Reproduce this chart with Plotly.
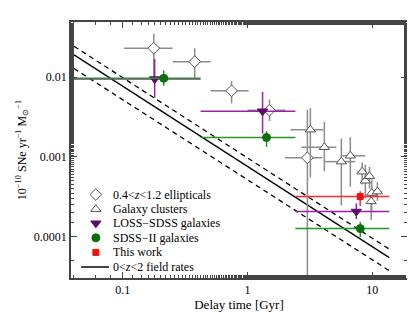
import numpy as np
import plotly.graph_objects as go

# ---- data ----
ell_t    = [0.177, 0.377, 0.745, 1.50, 3.02]
ell_t_lo = [0.102, 0.251, 0.506, 1.00, 2.00]
ell_t_hi = [0.251, 0.506, 1.02, 2.01, 3.98]
ell_r    = [0.0232, 0.0157, 0.00675, 0.00385, 0.00097]
ell_r_lo = [0.0100, 0.0097, 0.00468, 0.00282, 0.00001]
ell_r_hi = [0.0354, 0.0232, 0.0089, 0.00524, 0.0039]

cl_t    = [3.19, 4.13, 5.65, 6.67, 8.3, 8.8, 9.5, 9.9, 11.0, 9.8]
cl_t_lo = [2.21, 2.70, 4.20, 5.65, 7.6, 8.1, 8.9, 9.3, 10.2, 9.2]
cl_t_hi = [4.06, 5.15, 7.30, 8.80, 9.0, 9.5, 10.2, 10.6, 12.0, 10.5]
cl_r    = [0.00219, 0.00132, 0.00087, 0.00103, 0.00065, 0.00050, 0.00057, 0.00035, 0.000365, 0.000275]
cl_r_lo = [0.00055, 0.00066, 0.000245, 0.00042, 0.00045, 0.00030, 0.00040, 0.00020, 0.00028, 0.00016]
cl_r_hi = [0.0041, 0.00275, 0.0017, 0.00176, 0.00085, 0.00080, 0.00075, 0.00052, 0.00048, 0.00040]

loss_t    = [0.18, 1.32, 7.45]
loss_t_lo = [0.0406, 0.42, 2.42]
loss_t_hi = [0.42, 2.42, 13.7]
loss_r    = [0.0095, 0.00374, 0.000205]
loss_r_lo = [0.00555, 0.00196, 0.000165]
loss_r_hi = [0.0170, 0.00656, 0.00026]

sdss_t    = [0.213, 1.42, 8.02]
sdss_t_lo = [0.0406, 0.42, 2.42]
sdss_t_hi = [0.42, 2.42, 13.7]
sdss_r    = [0.0097, 0.00175, 0.000125]
sdss_r_lo = [0.0078, 0.00133, 0.0000975]
sdss_r_hi = [0.0122, 0.0021, 0.000152]

tw_t    = [8.0]
tw_t_lo = [2.42]
tw_t_hi = [13.7]
tw_r    = [0.000316]
tw_r_lo = [0.00024]
tw_r_hi = [0.00037]

field_t       = [0.0406, 13.7]
field_rate    = [0.0191, 0.000054]
field_rate_hi = [0.0245, 0.000069]
field_rate_lo = [0.0129, 0.000037]

xtick_vals = [0.1, 1, 10]
xtick_text = ["0.1", "1", "10"]
ytick_vals = [0.0001, 0.001, 0.01]
ytick_text = ["0.0001", "0.001", "0.01"]

legend_labels = ["0.4<<i>z</i><1.2 ellipticals", "Galaxy clusters", "LOSS−SDSS galaxies",
                 "SDSS−II galaxies", "This work", "0<<i>z</i><2 field rates"]

FONT = "'Times New Roman', 'Liberation Serif', Times, serif"

GRAY_E = "#8c8c8c"
PURP_E = "#9b22a6"
GREEN_E = "#1f9a1f"
RED_E = "#ff2a2a"

styles = [
    dict(symbol="diamond", size=9, color="white", line=dict(color="#555555", width=1)),
    dict(symbol="triangle-up", size=9, color="white", line=dict(color="#555555", width=1)),
    dict(symbol="triangle-down", size=9, color="#5c0a6e", line=dict(color="#5c0a6e", width=1)),
    dict(symbol="circle", size=8, color="#0b6e0b", line=dict(color="#0b6e0b", width=1)),
    dict(symbol="square", size=6, color="#ee1111", line=dict(color="#ee1111", width=1)),
]


def errs(v, lo, hi):
    v = np.array(v); lo = np.array(lo); hi = np.array(hi)
    return (hi - v).tolist(), (v - lo).tolist()


def point_trace(t, tlo, thi, r, rlo, rhi, name, marker, ecolor, ewidth=1.5):
    xp, xm = errs(t, tlo, thi)
    yp, ym = errs(r, rlo, rhi)
    return go.Scatter(
        x=t, y=r, mode="markers", name=name, showlegend=False,
        marker=marker,
        error_x=dict(type="data", symmetric=False, array=xp, arrayminus=xm,
                     color=ecolor, thickness=ewidth, width=0),
        error_y=dict(type="data", symmetric=False, array=yp, arrayminus=ym,
                     color=ecolor, thickness=ewidth, width=0),
    )


fig = go.Figure()

# field rate lines
fig.add_trace(go.Scatter(x=field_t, y=field_rate_hi, mode="lines", showlegend=False,
                         line=dict(color="black", width=1.3, dash="5px,4px")))
fig.add_trace(go.Scatter(x=field_t, y=field_rate_lo, mode="lines", showlegend=False,
                         line=dict(color="black", width=1.3, dash="5px,4px")))
fig.add_trace(go.Scatter(x=field_t, y=field_rate, mode="lines", showlegend=False,
                         name=legend_labels[5], line=dict(color="black", width=1.3)))

fig.add_trace(point_trace(ell_t, ell_t_lo, ell_t_hi, ell_r, ell_r_lo, ell_r_hi,
                          legend_labels[0], styles[0], GRAY_E))
fig.add_trace(point_trace(cl_t, cl_t_lo, cl_t_hi, cl_r, cl_r_lo, cl_r_hi,
                          legend_labels[1], styles[1], GRAY_E))
fig.add_trace(point_trace(loss_t, loss_t_lo, loss_t_hi, loss_r, loss_r_lo, loss_r_hi,
                          legend_labels[2], styles[2], PURP_E))
fig.add_trace(point_trace(sdss_t, sdss_t_lo, sdss_t_hi, sdss_r, sdss_r_lo, sdss_r_hi,
                          legend_labels[3], styles[3], GREEN_E))
fig.add_trace(point_trace(tw_t, tw_t_lo, tw_t_hi, tw_r, tw_r_lo, tw_r_hi,
                          legend_labels[4], styles[4], RED_E))

# ---- compact legend (keys on an overlay axis in plot-fraction units) ----
row_y = [0.326, 0.269, 0.214, 0.157, 0.100, 0.043]
key_x = 0.074
text_x = 0.119
for i in range(5):
    fig.add_trace(go.Scatter(x=[key_x], y=[row_y[i]], mode="markers", marker=styles[i],
                             xaxis="x2", yaxis="y2", showlegend=False, hoverinfo="skip"))
fig.add_trace(go.Scatter(x=[0.030, 0.113], y=[row_y[5], row_y[5]], mode="lines",
                         line=dict(color="#444444", width=2), xaxis="x2", yaxis="y2",
                         showlegend=False, hoverinfo="skip"))
for i, lab in enumerate(legend_labels):
    fig.add_annotation(x=text_x, y=row_y[i], xref="paper", yref="paper", text=lab,
                       showarrow=False, xanchor="left", yanchor="middle",
                       font=dict(family=FONT, size=12, color="black"))

axis_common = dict(
    type="log", showgrid=False, zeroline=False, showline=True, linecolor="#444444", linewidth=1.5,
    mirror="allticks", ticks="inside", ticklen=6, tickcolor="#444444",
    tickfont=dict(family=FONT, size=12, color="black"),
    minor=dict(ticks="inside", ticklen=3, tickcolor="#444444", showgrid=False),
)

fig.update_xaxes(range=[np.log10(0.0384), np.log10(19.0)], tickvals=xtick_vals, ticktext=xtick_text,
                 title=dict(text="Delay time [Gyr]", font=dict(family=FONT, size=13, color="black"),
                            standoff=2),
                 **axis_common)
fig.update_yaxes(range=[-4.524, -1.305], tickvals=ytick_vals, ticktext=ytick_text,
                 title=dict(text="10<sup>−10</sup> SNe yr<sup>−1</sup> M<sub>⊙</sub><sup>−1</sup>",
                            font=dict(family=FONT, size=12, color="black"), standoff=5),
                 **axis_common)

fig.update_layout(
    width=415, height=312,
    margin=dict(l=62, r=16, t=13, b=35),
    paper_bgcolor="white", plot_bgcolor="white",
    font=dict(family=FONT, size=12, color="black"),
    showlegend=False,
    xaxis2=dict(overlaying="x", range=[0, 1], visible=False, anchor="y2"),
    yaxis2=dict(overlaying="y", range=[0, 1], visible=False, anchor="x2"),
)

fig.write_html("out.html")
